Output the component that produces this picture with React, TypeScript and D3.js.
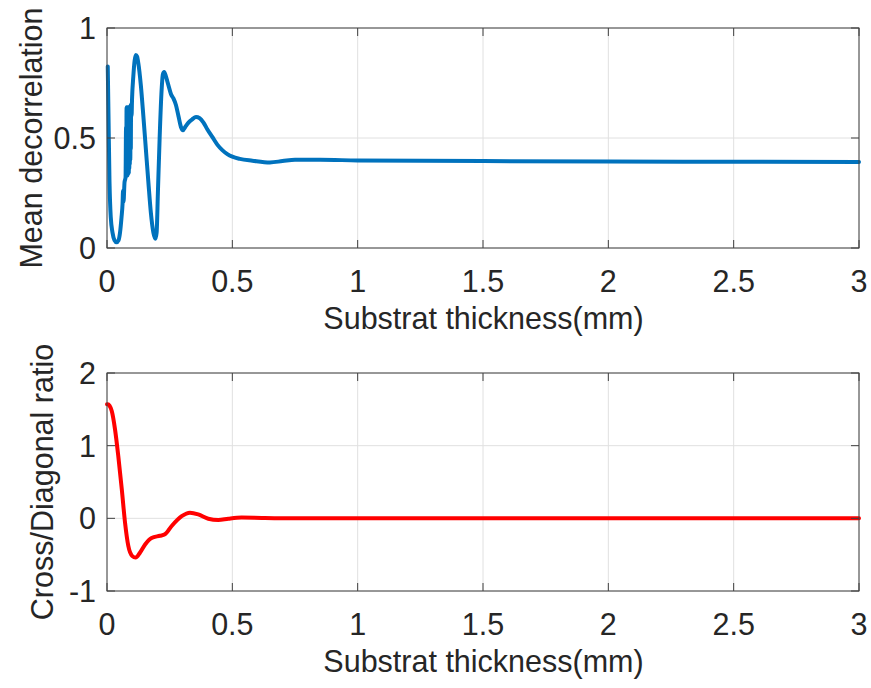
import React from "react";
import * as d3 from "d3";

const xTicks = [0, 0.5, 1, 1.5, 2, 2.5, 3];
const xTickLabels = ["0", "0.5", "1", "1.5", "2", "2.5", "3"];
const topYTicks = [0, 0.5, 1];
const topYTickLabels = ["0", "0.5", "1"];
const botYTicks = [-1, 0, 1, 2];
const botYTickLabels = ["-1", "0", "1", "2"];

const xLabel = "Substrat thickness(mm)";
const topYLabel = "Mean decorrelation";
const botYLabel = "Cross/Diagonal ratio";

// Mean decorrelation vs thickness
const decorX = [
  0.003, 0.006, 0.010, 0.015, 0.022, 0.030, 0.038, 0.046, 0.052, 0.058, 0.062, 0.064, 0.066,
  0.070, 0.074, 0.076, 0.077, 0.078, 0.079, 0.080, 0.081, 0.082, 0.083, 0.084, 0.085, 0.086,
  0.087, 0.088, 0.089, 0.090, 0.091, 0.092, 0.093, 0.094, 0.095, 0.096, 0.098,
  0.100, 0.105, 0.110, 0.115, 0.120, 0.125, 0.135, 0.145, 0.155, 0.165, 0.175, 0.185, 0.193,
  0.198, 0.203, 0.210, 0.217, 0.223, 0.228, 0.235, 0.245, 0.255, 0.265, 0.275, 0.285, 0.295,
  0.303, 0.312, 0.325, 0.340, 0.355, 0.370, 0.385, 0.40, 0.42, 0.44, 0.46, 0.48, 0.50, 0.53,
  0.58, 0.65, 0.70, 0.75, 0.85, 1.0, 1.5, 2.0, 2.5, 3.0,
];
const decorY = [
  0.825, 0.60, 0.30, 0.14, 0.07, 0.035, 0.026, 0.035, 0.07, 0.14, 0.20, 0.26, 0.21,
  0.30, 0.32, 0.55, 0.34, 0.64, 0.33, 0.62, 0.34, 0.64, 0.33, 0.63, 0.35, 0.64,
  0.34, 0.63, 0.36, 0.64, 0.38, 0.63, 0.40, 0.65, 0.45, 0.62, 0.60,
  0.68, 0.78, 0.85, 0.877, 0.87, 0.84, 0.74, 0.60, 0.45, 0.30, 0.16, 0.07, 0.042,
  0.07, 0.25, 0.50, 0.70, 0.79, 0.80, 0.78, 0.74, 0.70, 0.68, 0.65, 0.60, 0.55,
  0.535, 0.55, 0.57, 0.585, 0.595, 0.59, 0.57, 0.54, 0.505, 0.47, 0.445, 0.427, 0.415, 0.405,
  0.397, 0.389, 0.395, 0.401, 0.401, 0.398, 0.395, 0.393, 0.392, 0.391,
];

// Cross/Diagonal ratio vs thickness
const ratioX = [
  0.0, 0.003, 0.010, 0.019, 0.032, 0.045, 0.059, 0.072, 0.085, 0.101, 0.114, 0.132, 0.152,
  0.178, 0.211, 0.231, 0.258, 0.298, 0.331, 0.364, 0.404, 0.444, 0.484, 0.537, 0.617, 0.75,
  1.0, 1.5, 2.0, 2.5, 3.0,
];
const ratioY = [
  1.57, 1.57, 1.55, 1.476, 1.224, 0.857, 0.40, -0.06, -0.38, -0.52, -0.54, -0.47, -0.36,
  -0.27, -0.24, -0.22, -0.105, 0.03, 0.078, 0.055, -0.005, -0.023, -0.005, 0.01, 0.005, 0.0,
  0.0, 0.0, 0.0, 0.0, 0.0,
];

const FONT = "'Liberation Sans', Arial, Helvetica, sans-serif";
const TEXT = "#262626";
const AXIS = "#404040";
const GRID = "#e0e0e0";
const FS = 30.5;

const L = 107;
const R = 859;

type PanelProps = {
  top: number;
  bottom: number;
  yDomain: [number, number];
  yTicks: number[];
  yTickLabels: string[];
  yLabel: string;
  yLabelX: number;
  xs: number[];
  ys: number[];
  color: string;
};

function Panel(p: PanelProps) {
  const x = d3.scaleLinear().domain([0, 3]).range([L, R]);
  const y = d3.scaleLinear().domain(p.yDomain).range([p.bottom, p.top]);
  const pts: [number, number][] = p.xs.map((v, i) => [v, p.ys[i]]);
  const line = d3
    .line<[number, number]>()
    .x((d) => x(d[0]))
    .y((d) => y(d[1]))
    .curve(d3.curveMonotoneX);
  const tl = 8;
  return (
    <g>
      <rect x={L} y={p.top} width={R - L} height={p.bottom - p.top} fill="#fff" />
      {xTicks.map((t) => (
        <line key={"gx" + t} x1={x(t)} x2={x(t)} y1={p.top} y2={p.bottom} stroke={GRID} strokeWidth={1} />
      ))}
      {p.yTicks.map((t) => (
        <line key={"gy" + t} x1={L} x2={R} y1={y(t)} y2={y(t)} stroke={GRID} strokeWidth={1} />
      ))}
      <path d={line(pts) || ""} fill="none" stroke={p.color} strokeWidth={4} strokeLinejoin="round" strokeLinecap="round" />
      {xTicks.map((t) => (
        <g key={"tx" + t}>
          <line x1={x(t)} x2={x(t)} y1={p.bottom} y2={p.bottom - tl} stroke={AXIS} strokeWidth={1} />
          <line x1={x(t)} x2={x(t)} y1={p.top} y2={p.top + tl} stroke={AXIS} strokeWidth={1} />
        </g>
      ))}
      {p.yTicks.map((t) => (
        <g key={"ty" + t}>
          <line x1={L} x2={L + tl} y1={y(t)} y2={y(t)} stroke={AXIS} strokeWidth={1} />
          <line x1={R} x2={R - tl} y1={y(t)} y2={y(t)} stroke={AXIS} strokeWidth={1} />
        </g>
      ))}
      <rect x={L} y={p.top} width={R - L} height={p.bottom - p.top} fill="none" stroke={AXIS} strokeWidth={1} />
      {xTicks.map((t, i) => (
        <text key={"lx" + t} x={x(t)} y={p.bottom + 44} textAnchor="middle" fontSize={FS} fill={TEXT} fontFamily={FONT}>
          {xTickLabels[i]}
        </text>
      ))}
      {p.yTicks.map((t, i) => (
        <text key={"ly" + t} x={96} y={y(t)} dy="0.36em" textAnchor="end" fontSize={FS} fill={TEXT} fontFamily={FONT}>
          {p.yTickLabels[i]}
        </text>
      ))}
      <text x={(L + R) / 2 + 0.5} y={p.bottom + 81} textAnchor="middle" fontSize={FS} fill={TEXT} fontFamily={FONT}>
        {xLabel}
      </text>
      <text
        transform={`translate(${p.yLabelX},${(p.top + p.bottom) / 2}) rotate(-90)`}
        textAnchor="middle"
        fontSize={FS}
        fill={TEXT}
        fontFamily={FONT}
      >
        {p.yLabel}
      </text>
    </g>
  );
}

export default function App() {
  return (
    <svg width={871} height={688} style={{ position: "absolute", left: 0, top: 0, background: "#fff" }}>
      <rect width={871} height={688} fill="#fff" />
      <Panel
        top={28}
        bottom={248}
        yDomain={[0, 1]}
        yTicks={topYTicks}
        yTickLabels={topYTickLabels}
        yLabel={topYLabel}
        yLabelX={42}
        xs={decorX}
        ys={decorY}
        color="#0072BD"
      />
      <Panel
        top={373}
        bottom={591}
        yDomain={[-1, 2]}
        yTicks={botYTicks}
        yTickLabels={botYTickLabels}
        yLabel={botYLabel}
        yLabelX={53}
        xs={ratioX}
        ys={ratioY}
        color="#FF0000"
      />
    </svg>
  );
}
